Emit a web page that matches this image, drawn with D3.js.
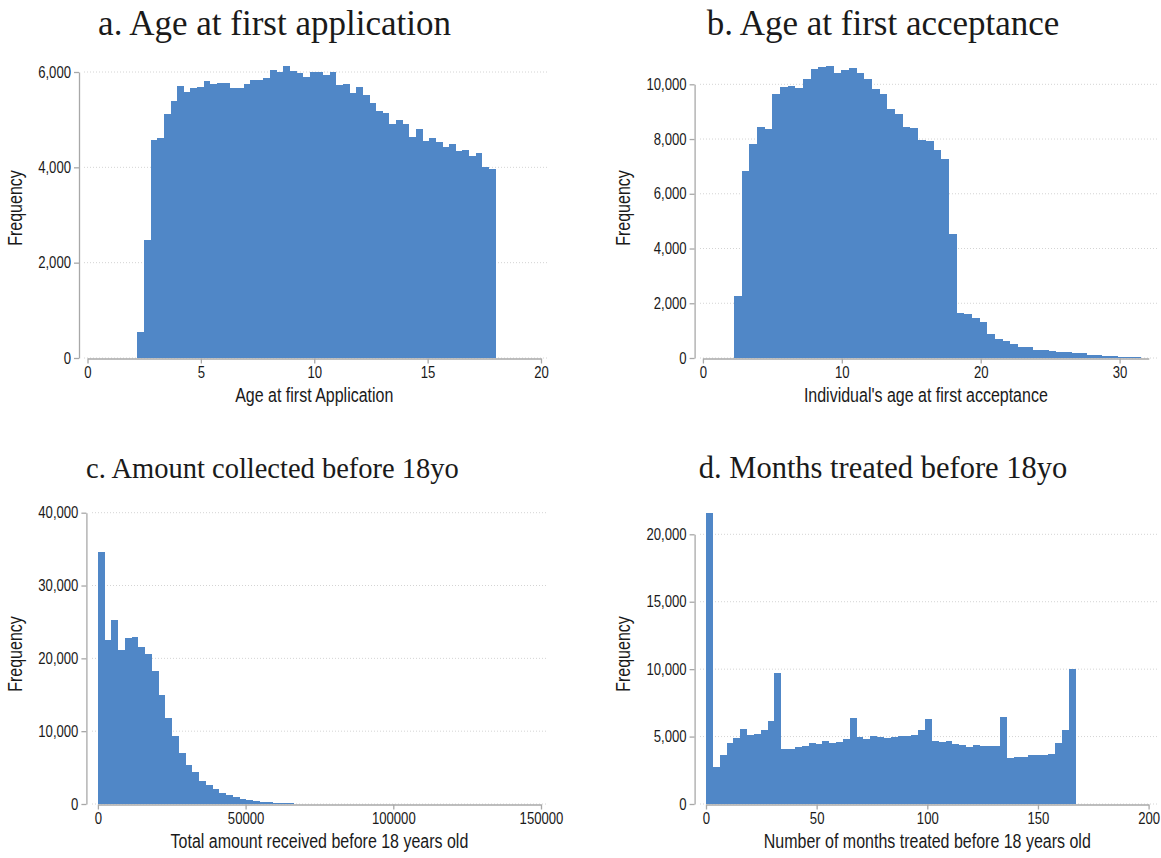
<!DOCTYPE html>
<html>
<head>
<meta charset="utf-8">
<script src="https://cdn.jsdelivr.net/npm/d3@7"></script>
<style>
  body { margin: 0; background: #ffffff; }
  .tick text { font-family: "Liberation Sans", Arimo, Arial, sans-serif; font-size: 16px; fill: #1a1a1a; }
  .axis-title { font-family: "Liberation Sans", Arimo, Arial, sans-serif; font-size: 19.5px; fill: #1a1a1a; }
  .panel-title { font-family: "Liberation Serif", "DejaVu Serif", serif; fill: #1a1a1a; }
</style>
</head>
<body>
<svg id="chart" width="1161" height="858"></svg>
<script>
// ---- Histogram counts (54 bins each) ----
const ageApplicationCounts = [545, 2475, 4573, 4615, 5119, 5392, 5706, 5580, 5664, 5685,
  5811, 5748, 5769, 5769, 5664, 5664, 5748, 5832, 5832, 5874,
  6042, 6000, 6126, 6021, 5979, 5895, 6000, 6000, 5937, 6000,
  5727, 5748, 5559, 5685, 5517, 5350, 5182, 5140, 4909, 4993,
  4909, 4636, 4804, 4552, 4615, 4531, 4427, 4490, 4343, 4364,
  4238, 4301, 4007, 3965];
const ageAcceptanceCounts = [2265, 6837, 7818, 8436, 8364, 9636, 9891, 9927, 9855, 10182,
  10545, 10618, 10654, 10400, 10509, 10582, 10400, 10182, 9818, 9636,
  9091, 8909, 8436, 8400, 7964, 7927, 7600, 7273, 4537, 1634,
  1610, 1463, 1305, 878, 695, 622, 512, 415, 415, 293,
  293, 256, 220, 220, 183, 183, 110, 110, 73, 73,
  37, 37, 37, 15];
const amountCounts = [34600, 22520, 25265, 21146, 22793, 22931, 21558, 20597, 18262, 14967,
  11809, 9337, 7003, 5355, 4394, 3158, 2609, 2060, 1510, 1236,
  961, 686, 549, 412, 275, 275, 137, 137, 120, 50,
  40, 30, 25, 20, 15, 12, 10, 8, 6, 5,
  4, 3, 3, 2, 2, 2, 1, 1, 1, 1,
  1, 1, 1, 1];
const monthsCounts = [21607, 2744, 3634, 4524, 4895, 5562, 5117, 5191, 5488, 6155,
  9715, 4079, 4079, 4227, 4301, 4524, 4450, 4672, 4524, 4598,
  4820, 6378, 4969, 4820, 5043, 4969, 4895, 4969, 5043, 5043,
  5117, 5488, 6304, 4672, 4598, 4672, 4450, 4375, 4227, 4375,
  4301, 4301, 4301, 6452, 3411, 3485, 3485, 3634, 3634, 3634,
  3708, 4524, 5488, 10012];

// ---- Bin edges (start, width) ----
const ageApplicationBins = [2.2, 15.8 / 54];
const ageAcceptanceBins = [2.25, 0.552];
const amountBins = [0, 2285];
const monthsBins = [0, 167 / 54];

// ---- Tick values ----
const ageApplicationXTicks = [0, 5, 10, 15, 20];
const ageApplicationYTicks = [0, 2000, 4000, 6000];
const ageAcceptanceXTicks = [0, 10, 20, 30];
const ageAcceptanceYTicks = [0, 2000, 4000, 6000, 8000, 10000];
const amountXTicks = [0, 50000, 100000, 150000];
const amountYTicks = [0, 10000, 20000, 30000, 40000];
const monthsXTicks = [0, 50, 100, 150, 200];
const monthsYTicks = [0, 5000, 10000, 15000, 20000];

const panelTitles = ["a. Age at first application", "b. Age at first acceptance",
  "c. Amount collected before 18yo", "d. Months treated before 18yo"];
const xTitles = ["Age at first Application", "Individual's age at first acceptance",
  "Total amount received before 18 years old", "Number of months treated before 18 years old"];
const yTitle = "Frequency";

// ---- Layout of the four panels ----
const panels = [
  { counts: ageApplicationCounts, bins: ageApplicationBins, xTicks: ageApplicationXTicks, yTicks: ageApplicationYTicks,
    xDomain: [0, 20], xRange: [87.5, 541], yDomain: [0, 6000], yRange: [358, 72],
    yAxisX: 79, grid: [84, 548], titleX: 274.5, titleY: 35, titleSize: 35, freqX: 22, freqY: 208 },
  { counts: ageAcceptanceCounts, bins: ageAcceptanceBins, xTicks: ageAcceptanceXTicks, yTicks: ageAcceptanceYTicks,
    xDomain: [0, 32.1], xRange: [702.9, 702.9 + 32.1 * 13.89], yDomain: [0, 10000], yRange: [358, 84.3],
    yAxisX: 694.6, grid: [700, 1158], titleX: 883, titleY: 35, titleSize: 35, freqX: 630, freqY: 208 },
  { counts: amountCounts, bins: amountBins, xTicks: amountXTicks, yTicks: amountYTicks,
    xDomain: [0, 150000], xRange: [97.9, 541], yDomain: [0, 40000], yRange: [804, 512.7],
    yAxisX: 86.4, grid: [92, 548], titleX: 272.5, titleY: 478, titleSize: 28.5, freqX: 22, freqY: 654 },
  { counts: monthsCounts, bins: monthsBins, xTicks: monthsXTicks, yTicks: monthsYTicks,
    xDomain: [0, 200], xRange: [706, 1148.6], yDomain: [0, 20000], yRange: [804, 534.3],
    yAxisX: 694.6, grid: [700, 1158], titleX: 883, titleY: 478, titleSize: 30.5, freqX: 630, freqY: 654 }
];

const barColor = "#5087c7";
const axisColor = "#a8a8a8";
const gridColor = "#d4d4d4";
const narrow = 0.82;   // horizontal squeeze giving a condensed sans look

const svg = d3.select("#chart");
svg.append("rect").attr("width", 1161).attr("height", 858).attr("fill", "#ffffff");

panels.forEach((p, idx) => {
  const g = svg.append("g");
  const x = d3.scaleLinear().domain(p.xDomain).range(p.xRange);
  const y = d3.scaleLinear().domain(p.yDomain).range(p.yRange);

  // dotted horizontal gridlines
  g.append("g").selectAll("line").data(p.yTicks).join("line")
    .attr("x1", p.grid[0]).attr("x2", p.grid[1])
    .attr("y1", d => y(d)).attr("y2", d => y(d))
    .attr("stroke", gridColor).attr("stroke-width", 1)
    .attr("stroke-dasharray", "1,2");

  // histogram bars
  const [start, width] = p.bins;
  g.append("g").selectAll("rect").data(p.counts).join("rect")
    .attr("x", (d, i) => x(start + i * width))
    .attr("width", (d, i) => x(start + (i + 1) * width) - x(start + i * width))
    .attr("y", d => y(d))
    .attr("height", d => y(0) - y(d))
    .attr("fill", barColor)
    .attr("shape-rendering", "crispEdges");

  // y axis
  const yAxis = d3.axisLeft(y).tickValues(p.yTicks).tickFormat(d3.format(",")).tickSize(5).tickSizeOuter(0).tickPadding(3);
  const ya = g.append("g").attr("transform", `translate(${p.yAxisX},0)`).call(yAxis);
  ya.selectAll(".tick text").attr("x", -8 / narrow).attr("transform", `scale(${narrow},1)`);

  // x axis
  const xAxis = d3.axisBottom(x).tickValues(p.xTicks).tickFormat(d3.format("d")).tickSize(5).tickSizeOuter(0).tickPadding(3);
  const xa = g.append("g").attr("transform", `translate(0,${y(0) + 0.5})`).call(xAxis);
  xa.selectAll(".tick text").attr("transform", `scale(${narrow},1)`);

  [ya, xa].forEach(a => {
    a.select(".domain").attr("stroke", axisColor).attr("stroke-width", 1.3);
    a.selectAll(".tick line").attr("stroke", axisColor).attr("stroke-width", 1.3);
  });

  // axis titles
  g.append("text").attr("class", "axis-title")
    .attr("transform", `translate(${(p.xRange[0] + p.xRange[1]) / 2},${y(0) + 44}) scale(${narrow},1)`)
    .attr("text-anchor", "middle").text(xTitles[idx]);
  g.append("text").attr("class", "axis-title")
    .attr("transform", `translate(${p.freqX},${p.freqY}) rotate(-90) scale(${narrow},1)`)
    .attr("text-anchor", "middle").text(yTitle);

  // panel title
  g.append("text").attr("class", "panel-title")
    .attr("x", p.titleX).attr("y", p.titleY)
    .style("font-size", p.titleSize + "px")
    .attr("text-anchor", "middle").text(panelTitles[idx]);
});
</script>
</body>
</html>
